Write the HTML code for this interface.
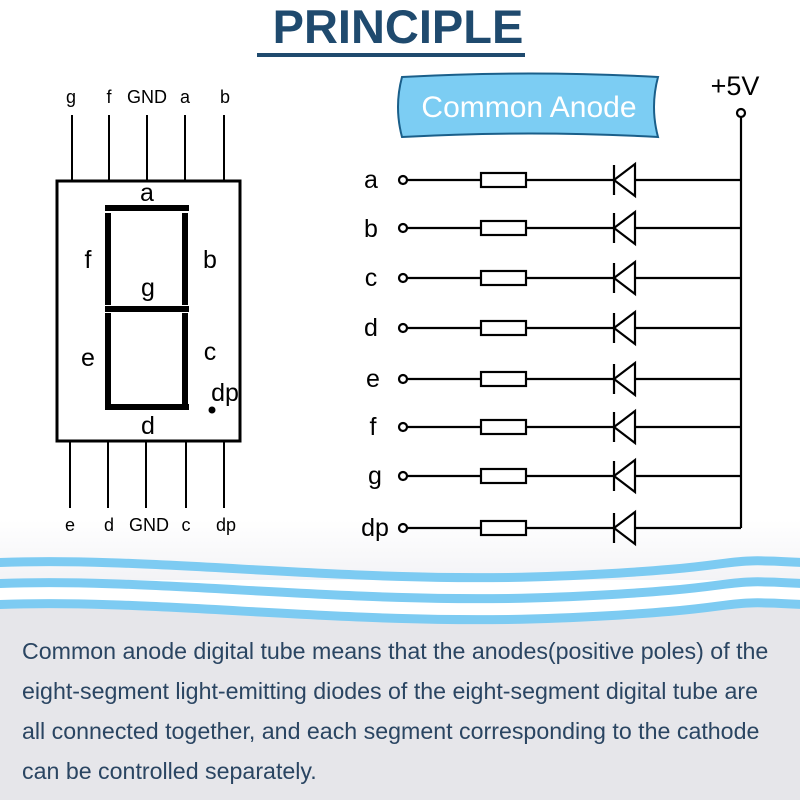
<!DOCTYPE html>
<html><head><meta charset="utf-8"><style>
body{margin:0;width:800px;height:800px;overflow:hidden;background:#fff}
svg{display:block}
</style></head><body>
<svg width="800" height="800" viewBox="0 0 800 800" xmlns="http://www.w3.org/2000/svg">
<defs><linearGradient id="bg" x1="0" y1="0" x2="0" y2="1">
<stop offset="0" stop-color="#ffffff"/><stop offset="1" stop-color="#f3f3f6"/></linearGradient></defs>
<rect x="0" y="520" width="800" height="60" fill="url(#bg)"/>
<path d="M-10,605 C150,597 350,627 560,618 S700,598 810,605 L810,810 L-10,810 Z" fill="#e6e6ea"/>
<g fill="none" stroke="#7dcbf2" stroke-width="9">
<path d="M-10,563 C150,555 350,585 560,576 S700,556 810,563"/>
<path d="M-10,584 C150,576 350,606 560,597 S700,577 810,584"/>
<path d="M-10,605 C150,597 350,627 560,618 S700,598 810,605"/>
</g>
<text x="398" y="43" text-anchor="middle" font-family="Liberation Sans, sans-serif" font-weight="bold" font-size="47" fill="#1f4a6e">PRINCIPLE</text>
<rect x="257" y="53" width="268" height="4" fill="#1f4a6e"/>
<g stroke="#000" stroke-width="2" fill="none">
<rect x="57" y="181" width="183" height="260" stroke-width="3"/>
<line x1="72" y1="115" x2="72" y2="181"/><line x1="109" y1="115" x2="109" y2="181"/>
<line x1="147" y1="115" x2="147" y2="181"/><line x1="185" y1="115" x2="185" y2="181"/>
<line x1="224" y1="115" x2="224" y2="181"/>
<line x1="70" y1="441" x2="70" y2="508"/><line x1="108" y1="441" x2="108" y2="508"/>
<line x1="146" y1="441" x2="146" y2="508"/><line x1="186" y1="441" x2="186" y2="508"/>
<line x1="224" y1="441" x2="224" y2="508"/>
</g>
<g fill="#000">
<rect x="105" y="205" width="84" height="6"/>
<rect x="105" y="213" width="6" height="92"/><rect x="182" y="213" width="6" height="92"/>
<rect x="105" y="306" width="84" height="6"/>
<rect x="105" y="313" width="6" height="91"/><rect x="182" y="313" width="6" height="91"/>
<rect x="105" y="404" width="84" height="6"/>
<circle cx="212" cy="410" r="3.5"/>
</g>
<g font-family="Liberation Sans, sans-serif" fill="#000" text-anchor="middle">
<g font-size="18">
<text x="71" y="103">g</text><text x="109" y="103">f</text><text x="147" y="103">GND</text><text x="185" y="103">a</text><text x="225" y="103">b</text>
<text x="70" y="531">e</text><text x="109" y="531">d</text><text x="149" y="531">GND</text><text x="186" y="531">c</text><text x="226" y="531">dp</text>
</g>
<g font-size="25">
<text x="147" y="201">a</text><text x="88" y="268">f</text><text x="210" y="268">b</text>
<text x="148" y="296">g</text><text x="88" y="366">e</text><text x="210" y="360">c</text>
<text x="225" y="401">dp</text><text x="148" y="434">d</text>
</g>
</g>
<path d="M402,77 Q530,70 658,77 Q650,107 658,137 Q530,130 402,137 Q394,107 402,77 Z" fill="#7ccdf3" stroke="#1a5f8a" stroke-width="2"/>
<text x="529" y="117" text-anchor="middle" font-family="Liberation Sans, sans-serif" font-size="30" fill="#fff">Common Anode</text>
<text x="735" y="95" text-anchor="middle" font-family="Liberation Sans, sans-serif" font-size="27" fill="#000">+5V</text>
<g stroke="#000" stroke-width="2.2" fill="none">
<circle cx="741" cy="113" r="4"/>
<line x1="741" y1="117" x2="741" y2="528"/>
</g>
<g font-family="Liberation Sans, sans-serif" font-size="25" fill="#000" text-anchor="middle">
<text x="371" y="188">a</text><text x="371" y="237">b</text><text x="371" y="286">c</text><text x="371" y="336">d</text>
<text x="373" y="387">e</text><text x="373" y="435">f</text><text x="375" y="484">g</text><text x="375" y="536">dp</text>
</g>
<g stroke="#000" stroke-width="2.2" fill="none">
<g id="r1" transform="translate(0,180)">
<circle cx="403" cy="0" r="4"/>
<line x1="407" y1="0" x2="481" y2="0"/>
<rect x="481" y="-7" width="45" height="14" fill="#fff"/>
<line x1="526" y1="0" x2="741" y2="0"/>
<line x1="614" y1="-15" x2="614" y2="15"/>
<path d="M614,0 L635,-16 L635,16 Z" fill="#fff"/>
</g>
<use href="#r1" transform="translate(0,48)"/>
<use href="#r1" transform="translate(0,98)"/>
<use href="#r1" transform="translate(0,148)"/>
<use href="#r1" transform="translate(0,199)"/>
<use href="#r1" transform="translate(0,247)"/>
<use href="#r1" transform="translate(0,296)"/>
<use href="#r1" transform="translate(0,348)"/>
</g>
<g font-family="Liberation Sans, sans-serif" font-size="23.2" fill="#2a4562">
<text x="22" y="659">Common anode digital tube means that the anodes(positive poles) of the</text>
<text x="22" y="699">eight-segment light-emitting diodes of the eight-segment digital tube are</text>
<text x="22" y="739">all connected together, and each segment corresponding to the cathode</text>
<text x="22" y="779">can be controlled separately.</text>
</g>
</svg>
</body></html>
